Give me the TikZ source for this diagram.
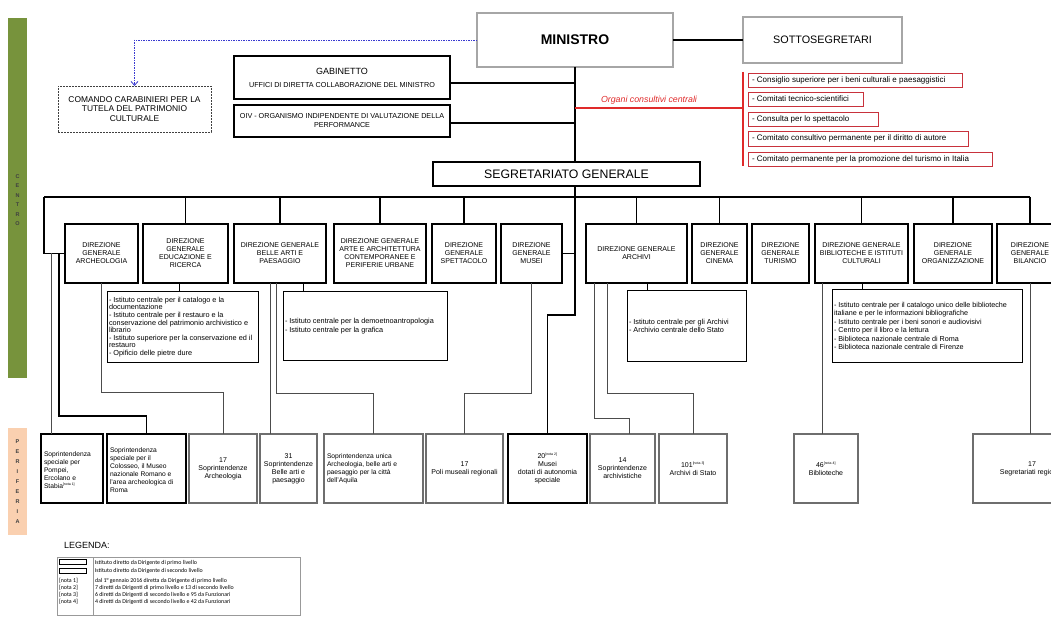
\documentclass[tikz,border=0pt]{standalone}
\usepackage{fontspec}
\setmainfont{Liberation Sans}
\newfontfamily\legfont{Carlito}
\usetikzlibrary{arrows.meta}
\definecolor{cbar}{HTML}{77933C}
\definecolor{pbar}{HTML}{FAD0B0}
\definecolor{redc}{HTML}{E02A2A}
\definecolor{rbord}{HTML}{C8323C}
\definecolor{bluec}{HTML}{3A3AD0}
\definecolor{grayb}{HTML}{A6A6A6}
\definecolor{bgray}{HTML}{6E6E6E}
\newcommand{\fs}[2]{\fontsize{#1}{#2}\selectfont}
\newcommand{\nota}[1]{\textsuperscript{\fs{3.5}{4}\selectfont[nota #1]}}
\begin{document}
\begin{tikzpicture}[x=1pt,y=-1pt,
  every node/.style={inner sep=0pt,outer sep=0pt},
  gbox/.style={draw=grayb,line width=1.8pt,fill=white,align=center},
  dg/.style={draw,line width=1.3pt,align=center,font=\fs{7}{8},minimum height=59pt},
  sbox/.style={draw,line width=1pt},
  stext/.style={align=left,font=\fs{7.3}{7.6},anchor=west},
  rbox/.style={draw=rbord,line width=0.9pt,minimum height=14pt},
  rtext/.style={anchor=west,font=\fs{8}{9}},
  bthin/.style={draw=bgray,line width=1.2pt,minimum height=69pt,align=center,font=\fs{7}{8}},
  bthick/.style={draw,line width=2pt,minimum height=69pt,align=center,font=\fs{7}{8}},
  btext/.style={anchor=west,align=left,font=\fs{6.7}{8}},
  mline/.style={line width=1.5pt},
  tline/.style={line width=0.75pt,draw=black!70},
  kline/.style={line width=1.9pt},
  letter/.style={font=\fs{5.5}{6}\bfseries,text=black!75},
  legtext/.style={anchor=west,font=\legfont\fs{5.9}{6.5}}]
\useasboundingbox (0,0) rectangle (1051,617);
\clip (0,0) rectangle (1051,617);
\fill[white] (0,0) rectangle (1051,617);

% side bars
\fill[cbar] (8,18) rectangle (27,378);
\fill[pbar] (8,428) rectangle (27,535);
\foreach \l [count=\i] in {C,E,N,T,R,O} \node[letter] (cl\i) at (17.5,167+\i*9.5) {\l};
\foreach \l [count=\i] in {P,E,R,I,F,E,R,I,A} \node[letter] (pl\i) at (17.5,432+\i*10) {\l};

% top level
\node[gbox,minimum width=196pt,minimum height=54pt,font=\fs{14}{16}\bfseries] (min) at (575,40) {MINISTRO};
\node[gbox,minimum width=159pt,minimum height=46pt,font=\fs{10.8}{12}] (sot) at (822.5,40) {SOTTOSEGRETARI};
\draw[line width=2pt] (min.east) -- (sot.west);

\node[draw=black!75,dash pattern=on 2pt off 1pt,line width=0.8pt,minimum width=153pt,minimum height=46pt,align=center,font=\fs{8.4}{9.5}] (com) at (134.5,109) {COMANDO CARABINIERI PER LA\\TUTELA DEL PATRIMONIO\\CULTURALE};
\draw[bluec,line width=0.8pt,dash pattern=on 1.5pt off 1pt,-{Straight Barb[length=4pt,width=7pt]}] (min.west) -| (com.north);

\node[draw,line width=1.3pt,minimum width=216pt,minimum height=43pt,align=center] (gab) at (342,77.5) {\fs{9}{10}GABINETTO\\[1pt]\fs{7.2}{8}UFFICI DI DIRETTA COLLABORAZIONE DEL MINISTRO};
\node[draw,line width=1.3pt,minimum width=216pt,minimum height=32pt,align=center,font=\fs{7.2}{9}] (oiv) at (342,121) {OIV - ORGANISMO INDIPENDENTE DI VALUTAZIONE DELLA\\PERFORMANCE};

\node[draw,line width=1.8pt,minimum width=267pt,minimum height=24pt,font=\fs{12.3}{14}] (seg) at (566.5,174) {SEGRETARIATO GENERALE};

\draw[mline] (min.south) -- (min.south |- seg.north);
\draw[mline] ([yshift=-5.5pt]gab.east) -- ([yshift=-5.5pt]gab.east -| min.south);
\draw[mline] ([yshift=-2pt]oiv.east) -- ([yshift=-2pt]oiv.east -| min.south);

% organi consultivi
\coordinate (rj) at (743,108);
\coordinate (rt) at (743,72);
\coordinate (rb) at (743,166);
\draw[redc,line width=1.5pt] (min.south |- rj) -- (rj);
\draw[redc,line width=1.5pt] (rt) -- (rb);
\node[text=redc,font=\fs{8.8}{9}\itshape] (org) at (649,100) {Organi consultivi centrali};
\node[rbox,minimum width=214pt] (r1) at (855,80) {};
\node[rbox,minimum width=115pt] (r2) at (805.5,99) {};
\node[rbox,minimum width=130pt] (r3) at (813,119) {};
\node[rbox,minimum width=220pt,minimum height=15pt] (r4) at (858,138.5) {};
\node[rbox,minimum width=244pt] (r5) at (870,159) {};
\node[rtext] (r1t) at ([xshift=4pt]r1.west) {- Consiglio superiore per i beni culturali e paesaggistici};
\node[rtext] (r2t) at ([xshift=4pt]r2.west) {- Comitati tecnico-scientifici};
\node[rtext] (r3t) at ([xshift=4pt]r3.west) {- Consulta per lo spettacolo};
\node[rtext] (r4t) at ([xshift=4pt]r4.west) {- Comitato consultivo permanente per il diritto di autore};
\node[rtext] (r5t) at ([xshift=4pt]r5.west) {- Comitato permanente per la promozione del turismo in Italia};

% bus
\coordinate (busL) at (44,197);
\coordinate (busR) at (1030,197);
\draw[mline] (busL) -- (busR);

% direzioni generali
\node[dg,minimum width=73pt] (d1) at (101.5,253.5) {DIREZIONE\\GENERALE\\ARCHEOLOGIA};
\node[dg,minimum width=85pt] (d2) at (185.5,253.5) {DIREZIONE\\GENERALE\\EDUCAZIONE E\\RICERCA};
\node[dg,minimum width=92pt] (d3) at (280,253.5) {DIREZIONE GENERALE\\BELLE ARTI E\\PAESAGGIO};
\node[dg,minimum width=92pt] (d4) at (380,253.5) {DIREZIONE GENERALE\\ARTE E ARCHITETTURA\\CONTEMPORANEE E\\PERIFERIE URBANE};
\node[dg,minimum width=64pt] (d5) at (464,253.5) {DIREZIONE\\GENERALE\\SPETTACOLO};
\node[dg,minimum width=61pt] (d6) at (531.5,253.5) {DIREZIONE\\GENERALE\\MUSEI};
\node[dg,minimum width=101pt] (d7) at (636.5,253.5) {DIREZIONE GENERALE\\ARCHIVI};
\node[dg,minimum width=55pt] (d8) at (719.5,253.5) {DIREZIONE\\GENERALE\\CINEMA};
\node[dg,minimum width=57pt] (d9) at (780.5,253.5) {DIREZIONE\\GENERALE\\TURISMO};
\node[dg,minimum width=93pt] (d10) at (861.5,253.5) {DIREZIONE GENERALE\\BIBLIOTECHE E ISTITUTI\\CULTURALI};
\node[dg,minimum width=78pt] (d11) at (953,253.5) {DIREZIONE\\GENERALE\\ORGANIZZAZIONE};
\node[dg,minimum width=66pt] (d12) at (1030,253.5) {DIREZIONE\\GENERALE\\BILANCIO};

\foreach \d in {d2,d3,d4,d5,d7,d8,d10,d11,d12} \draw[mline] (\d.north |- busL) -- (\d.north);
\draw[mline] (busL) |- (d1.west);
\draw[mline] (d6.east) -- (d6.east -| min.south);

% sub boxes
\node[sbox,minimum width=151pt,minimum height=70pt] (s2) at (182.5,327) {};
\node[sbox,minimum width=164pt,minimum height=68pt] (s3) at (365,326) {};
\node[sbox,minimum width=119pt,minimum height=70pt] (s7) at (686.5,326) {};
\node[sbox,minimum width=190pt,minimum height=72pt] (s10) at (927,326) {};
\node[stext] (s2t) at ([xshift=2pt]s2.west) {- Istituto centrale per il catalogo e la\\documentazione\\- Istituto centrale per il restauro e la\\conservazione del patrimonio archivistico e\\librario\\- Istituto superiore per la conservazione ed il\\restauro\\- Opificio delle pietre dure};
\node[stext,font=\fs{7.3}{8.5}] (s3t) at ([xshift=2pt]s3.west) {- Istituto centrale per la demoetnoantropologia\\- Istituto centrale per la grafica};
\node[stext,font=\fs{7.3}{8.5}] (s7t) at ([xshift=2pt]s7.west) {- Istituto centrale per gli Archivi\\- Archivio centrale dello Stato};
\node[stext,font=\fs{7.2}{8.5}] (s10t) at ([xshift=2pt]s10.west) {- Istituto centrale per il catalogo unico delle biblioteche\\italiane e per le informazioni bibliografiche\\- Istituto centrale per i beni sonori e audiovisivi\\- Centro per il libro e la lettura\\- Biblioteca nazionale centrale di Roma\\- Biblioteca nazionale centrale di Firenze};
\draw[tline,draw=black] (d2.south -| 179,0) -- (s2.north -| 179,0);
\draw[tline,draw=black] (d3.south -| 303,0) -- (s3.north -| 303,0);
\draw[tline,draw=black] (d7.south -| 647,0) -- (s7.north -| 647,0);
\draw[tline,draw=black] (d10.south -| 862,0) -- (s10.north -| 862,0);

% periferia
\node[bthick,minimum width=62pt] (b1) at (72,468.5) {};
\node[bthick,minimum width=79pt] (b2) at (146.5,468.5) {};
\node[bthin,minimum width=68pt] (b3) at (223,468.5) {17\\Soprintendenze\\Archeologia};
\node[bthin,minimum width=57pt] (b4) at (288.5,468.5) {31\\Soprintendenze\\Belle arti e\\paesaggio};
\node[bthin,minimum width=99pt] (b5) at (373.5,468.5) {};
\node[bthin,minimum width=77pt] (b6) at (464.5,468.5) {17\\Poli museali regionali};
\node[bthick,minimum width=79pt] (b7) at (547.5,468.5) {20\nota{2}\\Musei\\dotati di autonomia\\speciale};
\node[bthin,minimum width=65pt] (b8) at (622.5,468.5) {14\\Soprintendenze\\archivistiche};
\node[bthin,minimum width=68pt] (b9) at (693,468.5) {101\nota{3}\\Archivi di Stato};
\node[bthin,minimum width=64pt] (b10) at (826,468.5) {46\nota{4}\\Biblioteche};
\node[bthin,minimum width=118pt] (b11) at (1032,468.5) {17\\Segretariati regionali};
\node[btext] (b1t) at ([xshift=3pt,yshift=-2pt]b1.west) {Soprintendenza\\speciale per\\Pompei,\\Ercolano e\\Stabia\nota{1}};
\node[btext] (b2t) at ([xshift=3pt,yshift=-2pt]b2.west) {Soprintendenza\\speciale per il\\Colosseo, il Museo\\nazionale Romano e\\l'area archeologica di\\Roma};
\node[btext] (b5t) at ([xshift=3pt]b5.west) {Soprintendenza unica\\Archeologia, belle arti e\\paesaggio per la città\\dell'Aquila};

% routing to periferia
\draw[tline] (d1.west -| 51,0) -- (b1.north -| 51,0);
\draw[kline] (d1.west -| 59,0) -- (59,416) -| (b2.north);
\draw[tline] (d1.south) -- (101.5,392) -| (b3.north);
\draw[tline] (d3.south -| 270,0) -- (b4.north -| 270,0);
\draw[tline] (d3.south -| 276,0) -- (276,393) -| (b5.north);
\draw[tline] (d6.south) -- (531.5,393) -| (b6.north);
\draw[kline] (seg.south -| min.south) -- (575,315) -| (b7.north);
\draw[tline] (d7.south -| 594,0) -- (594,418) -| (b8.north -| 629,0);
\draw[tline] (d7.south -| 607,0) -- (607,393) -| (b9.north);
\draw[tline] (d10.south -| 822,0) -- (b10.north -| 822,0);
\draw[tline] (d12.south) -- (b11.north -| d12.south);

% legenda
\node[anchor=west,font=\fs{9}{10}] (leg) at (64,545) {LEGENDA:};
\draw[black!40,line width=0.6pt] (57,557) rectangle (300,615);
\draw[black!40,line width=0.6pt] (93,557) -- (93,615);
\node[draw,line width=1.6pt,minimum width=27pt,minimum height=5pt] (sym1) at (73,562) {};
\node[draw,line width=0.7pt,minimum width=27pt,minimum height=5pt] (sym2) at (73,570.5) {};
\node[legtext] (l1) at (95,563) {Istituto diretto da Dirigente di primo livello};
\node[legtext] (l2) at (95,571) {Istituto diretto da Dirigente di secondo livello};
\node[legtext] (n1) at (59,581) {[nota 1]};
\node[legtext] (l3) at (95,581) {dal 1° gennaio 2016 diretta da Dirigente di primo livello};
\node[legtext] (n2) at (59,588) {[nota 2]};
\node[legtext] (l4) at (95,588) {7 diretti da Dirigenti di primo livello e 13 di secondo livello};
\node[legtext] (n3) at (59,595) {[nota 3]};
\node[legtext] (l5) at (95,595) {6 diretti da Dirigenti di secondo livello e 95 da Funzionari};
\node[legtext] (n4) at (59,602) {[nota 4]};
\node[legtext] (l6) at (95,602) {4 diretti da Dirigenti di secondo livello e 42 da Funzionari};
\end{tikzpicture}
\end{document}
